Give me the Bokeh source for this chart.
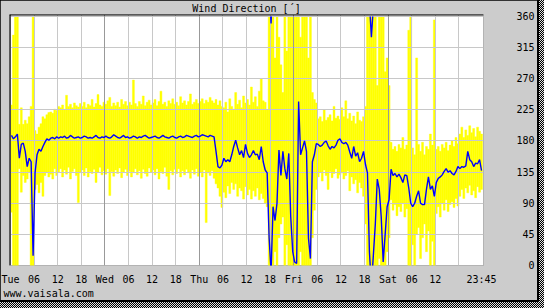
from bokeh.plotting import figure
from bokeh.models import FixedTicker, Range1d, Grid, Span, Title
from bokeh.layouts import column
from bokeh.embed import file_html
from bokeh.resources import INLINE

# ---------------- data (half-hour samples, Tue 00:00 .. Sat 23:30) ----------------
mean_dir = [
    188, 183, 186, 190, 155, 175, 177, 165, 143, 155, 150, 14,
    134, 160, 168, 165, 172, 178, 183, 181, 184, 185, 183, 186,
    184, 186, 185, 187, 184, 185, 188, 186, 184, 185, 186, 184,
    185, 187, 186, 184, 185, 184, 186, 188, 185, 184, 186, 185,
    187, 185, 184, 186, 189, 187, 185, 184, 186, 188, 185, 186,
    184, 185, 187, 186, 184, 186, 185, 187, 188, 186, 184, 185,
    186, 187, 185, 184, 186, 188, 186, 185, 184, 186, 187, 185,
    184, 186, 187, 185, 186, 188, 187, 186, 185, 187, 188, 186,
    187, 189, 188, 187, 186, 188, 187, 186, 165, 143, 141, 145,
    155, 150, 153, 150, 160, 172, 181, 170, 160, 166, 156, 175,
    162, 156, 160, 166, 160, 161, 153, 172, 150, 138, 134, 40,
    350, 85, 65, 90, 167, 130, 165, 140, 125, 162, 70, 20,
    5, 3, 237, 160, 170, 180, 165, 40, 10, 150, 160, 176,
    175, 172, 174, 178, 180, 173, 168, 172, 170, 174, 181, 183,
    178, 176, 178, 174, 164, 155, 172, 158, 163, 150, 155, 165,
    146, 134, 20, 330, 15, 60, 125, 110, 70, 5, 45, 85,
    95, 139, 130, 133, 128, 132, 127, 120, 131, 130, 112, 90,
    85, 90, 100, 108, 90, 88, 88, 110, 128, 110, 115, 100,
    120, 126, 128, 131, 136, 140, 135, 137, 133, 131, 136, 143,
    140, 143, 142, 144, 165, 153, 150, 143, 148, 147, 153, 137,
]
max_dir = [
    232, 333, 360, 360, 204, 228, 204, 210, 205, 215, 230, 360,
    195, 190, 200, 205, 215, 212, 218, 221, 222, 220, 226, 224,
    230, 228, 232, 226, 246, 230, 233, 228, 235, 231, 229, 234,
    230, 236, 228, 233, 231, 240, 229, 234, 247, 232, 230, 236,
    233, 238, 243, 230, 235, 231, 236, 229, 240, 233, 237, 231,
    236, 232, 268, 234, 230, 237, 233, 245, 231, 236, 239, 232,
    235, 240, 231, 237, 252, 233, 236, 230, 238, 234, 241, 233,
    236, 231, 244, 235, 238, 232, 237, 248, 233, 236, 240, 234,
    237, 241, 234, 239, 236, 243, 238, 235, 240, 232, 238, 230,
    228, 236, 222, 241, 230, 226, 250, 233, 239, 228, 245, 235,
    240, 232, 258, 236, 244, 230, 252, 270, 238, 236, 225, 360,
    360, 360, 300, 360, 330, 290, 250, 360, 310, 360, 360, 360,
    360, 360, 360, 330, 360, 360, 360, 300, 360, 250, 240, 235,
    212, 215, 208, 225, 210, 214, 218, 209, 230, 213, 216, 211,
    228, 215, 238, 212, 220, 209, 216, 205, 222, 210, 208, 215,
    230, 360, 360, 360, 360, 360, 260, 360, 360, 360, 280, 300,
    260, 178, 168, 172, 165, 175, 170, 185, 168, 174, 340, 360,
    170, 160, 300, 175, 165, 178, 160, 172, 168, 190, 174, 355,
    168, 172, 165, 175, 170, 178, 166, 174, 180, 172, 185, 176,
    190, 200, 185, 196, 188, 202, 192, 198, 186, 200, 194, 190,
]
min_dir = [
    77, 0, 0, 0, 140, 106, 130, 120, 125, 135, 0, 0,
    110, 117, 105, 120, 100, 130, 135, 128, 132, 125, 140, 130,
    135, 140, 128, 138, 132, 142, 125, 136, 140, 130, 91, 134,
    138, 130, 141, 128, 136, 133, 139, 120, 135, 142, 131, 137,
    132, 140, 101, 136, 129, 138, 133, 141, 127, 135, 139, 130,
    136, 128, 134, 140, 131, 137, 126, 139, 133, 129, 141, 135,
    138, 131, 140, 125, 136, 133, 142, 129, 110, 137, 131, 139,
    133, 140, 128, 137, 131, 139, 134, 126, 138, 132, 140, 129,
    135, 128, 138, 62, 134, 130, 137, 126, 118, 112, 100, 84,
    106, 98, 115, 104, 120, 110, 118, 100, 112, 108, 96, 114,
    102, 110, 96, 108, 100, 112, 95, 104, 97, 90, 85, 0,
    0, 0, 20, 0, 40, 60, 70, 0, 30, 0, 0, 0,
    0, 0, 0, 20, 0, 0, 0, 0, 0, 40, 80, 110,
    128, 135, 122, 138, 130, 110, 136, 127, 133, 140, 126, 131,
    134, 125, 130, 137, 108, 128, 118, 124, 105, 120, 112, 100,
    60, 0, 0, 0, 0, 0, 0, 10, 0, 0, 0, 20,
    40, 95, 80, 88, 72, 85, 78, 90, 70, 82, 0, 0,
    30, 0, 45, 55, 10, 40, 60, 20, 50, 0, 35, 0,
    75, 85, 70, 90, 80, 95, 78, 88, 92, 84, 97, 86,
    100, 110, 97, 112, 105, 116, 102, 108, 98, 114, 106, 110,
]
STEP_H = 0.5
hours = [STEP_H / 2 + STEP_H * k for k in range(len(mean_dir))]

x_tick_hours = [0, 6, 12, 18, 24, 30, 36, 42, 48, 54, 60, 66, 72, 78, 84, 90, 96, 102, 108, 119.75]
x_tick_labels = ["Tue", "06", "12", "18", "Wed", "06", "12", "18", "Thu", "06", "12", "18",
                 "Fri", "06", "12", "18", "Sat", "06", "12", "23:45"]
six_hour_grid = [6, 12, 18, 30, 36, 42, 54, 60, 66, 78, 84, 90, 102, 108, 114]
day_grid = [0, 24, 48, 72, 96]
y_ticks = [0, 45, 90, 135, 180, 225, 270, 315, 360]

FONT = "DejaVu Sans Mono"
X0, X1 = -0.25, 120.25
Y0, Y1 = 0, 362.8

p = figure(width=537, height=300, x_range=Range1d(X0, X1), y_range=Range1d(Y0, Y1),
           y_axis_location="right", output_backend="svg", toolbar_location=None,
           min_border_left=9, min_border_right=46, min_border_top=14, min_border_bottom=28,
           background_fill_color="white", border_fill_color="#cccccc",
           outline_line_color=None)

p.title.text = "Wind Direction [´]"
p.title.align = "center"
p.title.text_font = FONT
p.title.text_font_size = "10px"
p.title.text_font_style = "normal"
p.title.text_color = "black"
p.title.standoff = 1

# axes
p.xaxis.ticker = FixedTicker(ticks=x_tick_hours)
p.xaxis.major_label_overrides = {h: lab for h, lab in zip(x_tick_hours, x_tick_labels)}
p.yaxis.ticker = FixedTicker(ticks=y_ticks)
# right-justify the monospaced degree labels with figure spaces
p.yaxis.major_label_overrides = {v: str(v).rjust(3, "\u2007") for v in y_ticks}
for ax in (p.xaxis, p.yaxis):
    ax.major_tick_line_color = None
    ax.minor_tick_line_color = None
    ax.axis_line_color = None
    ax.major_label_text_font = FONT
    ax.major_label_text_font_size = "10px"
    ax.major_label_text_color = "black"
p.xaxis.major_label_standoff = 2
p.yaxis.major_label_standoff = 27

# grids
p.xgrid.ticker = FixedTicker(ticks=six_hour_grid)
p.xgrid.grid_line_color = "#c8c8c8"
p.ygrid.ticker = FixedTicker(ticks=y_ticks[1:])
p.ygrid.grid_line_color = "#c8c8c8"
day_lines = Grid(dimension=0, ticker=FixedTicker(ticks=day_grid), grid_line_color="#999999")
p.add_layout(day_lines)
for g in (p.xgrid[0], p.ygrid[0], day_lines):
    g.level = "glyph"

# min..max range bars
p.vbar(x=hours, bottom=min_dir, top=max_dir, width=STEP_H,
       fill_color="#ffff00", line_color="#ffff00", line_width=0.4, level="underlay")

# mean direction, broken where it wraps through 0/360
segs_x, segs_y = [], []
cx, cy = [hours[0]], [mean_dir[0]]
for k in range(1, len(mean_dir)):
    a, b = mean_dir[k - 1], mean_dir[k]
    ta, tb = hours[k - 1], hours[k]
    if abs(b - a) > 240:
        if b < a:
            d = (360 - a) + b
            tc = ta + (tb - ta) * (360 - a) / d
            cx.append(tc); cy.append(360)
            segs_x.append(cx); segs_y.append(cy)
            cx, cy = [tc, tb], [0, b]
        else:
            d = a + (360 - b)
            tc = ta + (tb - ta) * a / d
            cx.append(tc); cy.append(0)
            segs_x.append(cx); segs_y.append(cy)
            cx, cy = [tc, tb], [360, b]
    else:
        cx.append(tb); cy.append(b)
segs_x.append(cx); segs_y.append(cy)
p.multi_line(xs=segs_x, ys=segs_y, line_color="#0000ff", line_width=1.4, level="annotation")

# sunken frame edges (top and left)
p.add_layout(Span(location=Y1, dimension="width", line_color="black", line_width=2))
p.add_layout(Span(location=X0, dimension="height", line_color="black", line_width=2))

site = Title(text="www.vaisala.com", align="left", offset=-6, standoff=0, vertical_align="top",
             text_font=FONT, text_font_size="10px", text_font_style="normal", text_color="black")
p.add_layout(site, "below")

page = column(p, width=544, height=308,
              styles={"background": "linear-gradient(#000, #000) 0 0 / 539px 302px no-repeat, "
                                    "repeating-conic-gradient(#000 0% 25%, #e0e0e0 0% 50%) 0 0 / 2px 2px"})

open("out.html", "w").write(file_html(page, INLINE))
